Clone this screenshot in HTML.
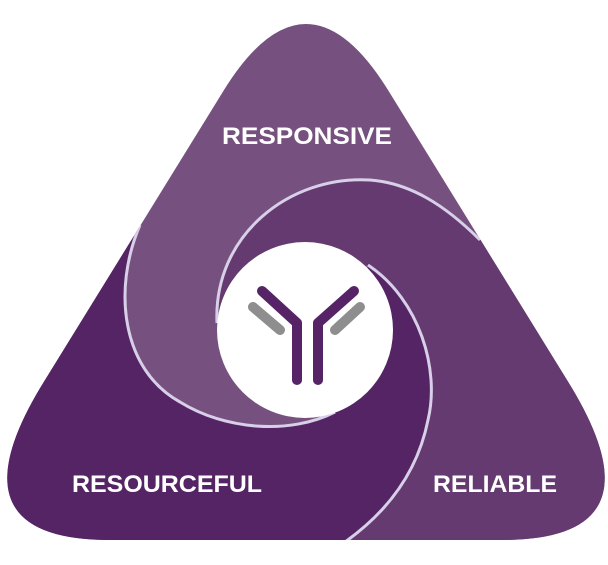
<!DOCTYPE html>
<html><head><meta charset="utf-8"><style>
html,body{margin:0;padding:0;background:#fff;width:608px;height:565px;overflow:hidden;}
svg{display:block;}
text{font-family:"Liberation Sans",sans-serif;font-weight:bold;fill:#fff;font-size:24px;}
</style></head><body>
<svg width="608" height="565" viewBox="0 0 608 565" xmlns="http://www.w3.org/2000/svg">
<defs>
<clipPath id="tri"><path d="M224,90 Q306,-42 388,90 L567,380 Q667,540 502,540 L110,540 Q-55,540 45,380 Z"/></clipPath>
</defs>
<g clip-path="url(#tri)">
<rect x="0" y="0" width="608" height="565" fill="#76517f"/>
<path d="M217,323 C213,235 290,175 370,180 C410,183 445,205 480,240 L700,240 L700,600 L345,600 L345,542 C390,510 418,470 428,420 C440,370 420,300 368,265 Z" fill="#643a70"/>
<path d="M140,225 C112,290 122,370 180,402 C225,430 290,435 335,412 L368,265 C420,300 440,370 428,420 C418,470 390,510 345,542 L345,600 L-50,600 L-50,225 Z" fill="#542465"/>
<g fill="none" stroke="#d8cfe8" stroke-width="3">
<path d="M217,323 C213,235 290,175 370,180 C410,183 445,205 480,240"/>
<path d="M368,265 C420,300 440,370 428,420 C418,470 390,510 345,542"/>
<path d="M140,225 C112,290 122,370 180,402 C225,430 290,435 335,412"/>
</g>
</g>
<circle cx="305" cy="330" r="88" fill="#fff"/>
<g stroke-linecap="round" stroke-linejoin="round" fill="none" stroke-width="10">
<path d="M253,307 L280,330 M360,307 L335,330" stroke="#8e8e8e"/>
<path d="M262,291 L297,323 L297,380 M354,291 L318,323 L318,380" stroke="#552366"/>
</g>
<text x="307" y="144" text-anchor="middle" textLength="170" lengthAdjust="spacingAndGlyphs">RESPONSIVE</text>
<text x="72" y="492" textLength="190" lengthAdjust="spacingAndGlyphs">RESOURCEFUL</text>
<text x="433" y="492" textLength="124" lengthAdjust="spacingAndGlyphs">RELIABLE</text>
</svg>
</body></html>
